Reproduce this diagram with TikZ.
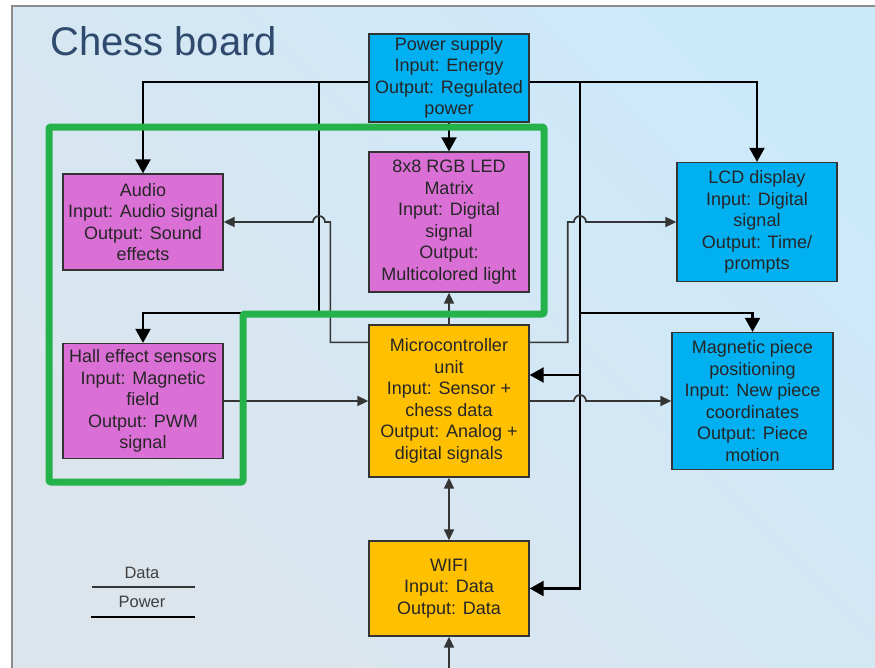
\documentclass[tikz,border=0pt]{standalone}
\usepackage{fontspec}
\setmainfont{Liberation Sans}
\usepackage{tikz}
\usetikzlibrary{arrows.meta,positioning,calc}
\definecolor{skyc}{HTML}{00B0F0}
\definecolor{orchidc}{HTML}{DA70D6}
\definecolor{goldc}{HTML}{FFC000}
\definecolor{groupc}{HTML}{25B24B}
\definecolor{edgec}{HTML}{333333}
\definecolor{datac}{HTML}{353535}
\definecolor{titlec}{HTML}{2F4A6C}
\definecolor{bgtop}{HTML}{CCE9FB}
\definecolor{bgbot}{HTML}{DDE5EC}
\definecolor{framec}{HTML}{8C8C8C}
\tikzset{
  box/.style={draw=edgec,line width=1.3pt,inner sep=2pt,align=center,
    font=\fontsize{18}{21.5}\selectfont,text=black!85,minimum width=160pt},
  boxc/.style={box,fill=skyc},
  boxm/.style={box,fill=orchidc},
  boxy/.style={box,fill=goldc},
  pline/.style={line width=2.2pt,draw=black,-{Triangle[length=14pt,width=15pt]}},
  dline/.style={line width=1.7pt,draw=datac,-{Triangle[length=11pt,width=10pt]}},
  dboth/.style={dline,{Triangle[length=11pt,width=10pt]}-{Triangle[length=11pt,width=10pt]}},
  grp/.style={draw=groupc,line width=7pt,rounded corners=2pt},
  figtitle/.style={font=\fontsize{40}{44}\selectfont,text=titlec,inner sep=0pt},
  legtxt/.style={font=\fontsize{16.5}{18}\selectfont,text=black!75,inner sep=1pt},
}

\begin{document}
\begin{tikzpicture}[x=1pt,y=1pt]
  \useasboundingbox (0,0) rectangle (875,-667);
  % slide background
  \draw[draw=framec,line width=2pt,top color=bgtop,bottom color=bgbot,shading angle=-45]
    (12,-6) rectangle (900,-700);

  % --- blocks ---
  \node[boxc,minimum height=88pt] (ps) at (449,-78) {Power supply\\Input: Energy\\Output: Regulated\\power};
  \node[boxm,minimum height=140pt] (led) at (449,-222) {8x8 RGB LED\\Matrix\\Input: Digital\\signal\\Output:\\Multicolored light};
  \node[boxm,minimum height=96pt] (audio) at (143,-222) {Audio\\Input: Audio signal\\Output: Sound\\effects};
  \node[boxm,minimum height=115pt] (hall) at (143,-401) {Hall effect sensors\\Input: Magnetic\\field\\Output: PWM\\signal};
  \node[boxy,minimum height=152pt] (mcu) at (449,-401) {Microcontroller\\unit\\Input: Sensor +\\chess data\\Output: Analog +\\digital signals};
  \node[boxy,minimum height=95pt] (wifi) at (449,-588.5) {WIFI\\Input: Data\\Output: Data};
  \node[boxc,minimum height=119pt] (lcd) at (757,-222) {LCD display\\Input: Digital\\signal\\Output: Time/\\prompts};
  \node[boxc,minimum height=137pt,minimum width=161pt] (mag) at (752.5,-401) {Magnetic piece\\positioning\\Input: New piece\\coordinates\\Output: Piece\\motion};

  % junctions and line hops
  \coordinate (jl) at (319,-82);
  \coordinate (jr) at (580,-82);
  \coordinate (hopA) at (319,-222);
  \coordinate (hopB) at (580,-222);
  \coordinate (hopC) at (580,-401);
  \coordinate (wifiin) at (449,-680);

  % --- power ---
  \draw[pline] (ps.west |- jl) -| (audio.north);
  \draw[pline] (jl) -- (jl |- 0,-313) -| (hall.north);
  \draw[pline] (ps.east |- jr) -| (lcd.north);
  \draw[pline] (jr) |- (wifi.east);
  \draw[pline] (jr |- 0,-313) -| (mag.north);
  \draw[pline] (jr |- 0,-375) -- (mcu.east |- 0,-375);
  \draw[pline] (ps.south) -- (led.north);

  % --- data ---
  \draw[dline] ([yshift=-18pt]mcu.north west) -- ++(-38,0) |- ([xshift=6pt]hopA)
    arc[start angle=0,end angle=180,radius=6pt] -- (audio.east);
  \draw[dline] ([yshift=-18pt]mcu.north east) -- ++(38,0) |- ([xshift=-6pt]hopB)
    arc[start angle=180,end angle=0,radius=6pt] -- (lcd.west);
  \draw[dline] (hall.east) -- (hall.east -| mcu.west);
  \draw[dline] (mcu.east) -- ([xshift=-6pt]hopC)
    arc[start angle=180,end angle=0,radius=6pt] -- (mag.west);
  \draw[dline] (mcu.north) -- (led.south);
  \draw[dboth] (mcu.south) -- (wifi.north);
  \draw[dline] (wifiin) -- (wifi.south);

  % subsystem outline
  \draw[grp] (49,-127) -- (544,-127) -- (544,-314) -- (243,-314) -- (243,-482) -- (49,-482) -- cycle;

  \node[figtitle,anchor=base west] (title) at (50,-55) {Chess board};

  % legend
  \node[legtxt] (legdata) at (142,-573) {Data};
  \node[legtxt] (legpower) at (142,-602) {Power};
  \draw[dline,-] (92,-587) -- (195,-587);
  \draw[pline,-] (91,-617) -- (195,-617);
\end{tikzpicture}
\end{document}
